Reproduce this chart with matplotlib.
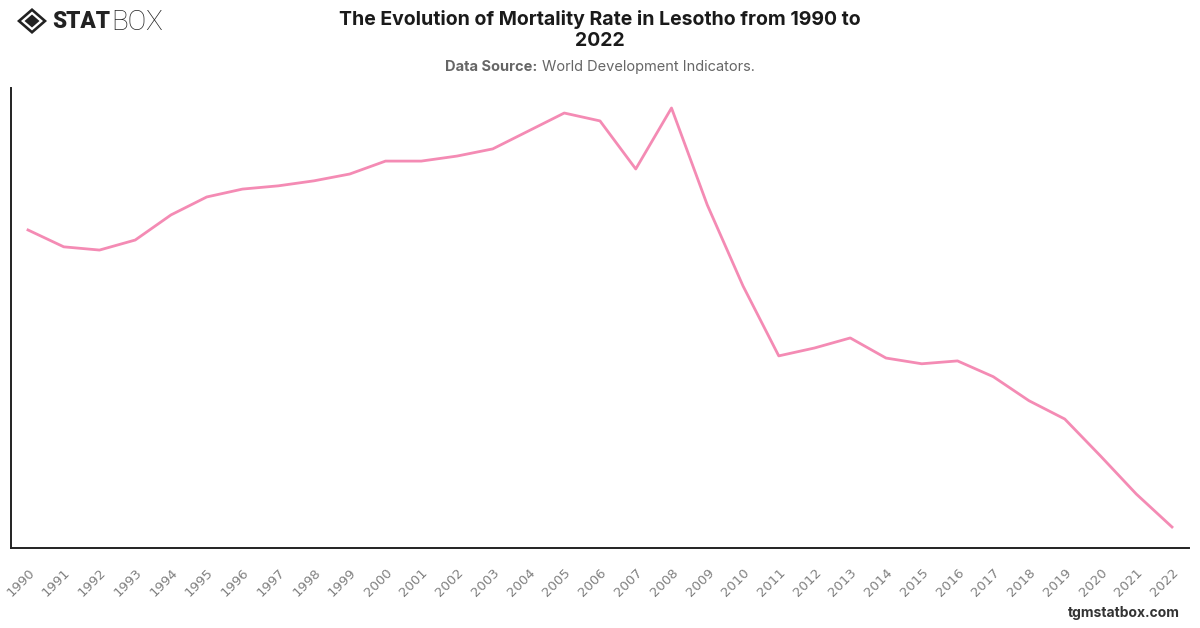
import matplotlib
matplotlib.use("Agg")
import matplotlib.pyplot as plt
from matplotlib.patches import Polygon

years = list(range(1990, 2023))
# Mortality rate (estimated from chart; no axis values shown)
values = [18.60, 18.13, 18.04, 18.32, 19.02, 19.52, 19.74, 19.83, 19.97, 20.16,
          20.52, 20.52, 20.66, 20.86, 21.36, 21.86, 21.64, 20.30, 22.00, 19.30,
          17.04, 15.09, 15.31, 15.59, 15.03, 14.87, 14.95, 14.51, 13.84, 13.33,
          12.30, 11.24, 10.32]

title = "The Evolution of Mortality Rate in Lesotho from 1990 to\n2022"
line_color = "#F48BB4"

fig = plt.figure(figsize=(12, 6.28), dpi=100)
ax = fig.add_axes([11/1200, 1-548/628, (1189-11)/1200, (548-88)/628])
ax.plot(years, values, color=line_color, lw=2)

vmin, vmax = min(values), max(values)
rng = vmax - vmin
ax.set_ylim(vmin - 21/419*rng, vmax + 20/419*rng)
ax.set_xlim(1990 - 17/35.75, 2022 + 17/35.75)
ax.set_xticks(years)
ax.set_xticklabels([str(y) for y in years], rotation=45, ha="right", va="top",
                   rotation_mode="anchor", color="#808080", fontsize=9.5, family="DejaVu Sans")
ax.tick_params(axis="x", length=0, pad=13)
ax.set_yticks([])
for s in ["top", "right"]:
    ax.spines[s].set_visible(False)
for s in ["left", "bottom"]:
    ax.spines[s].set_color("#222222")
    ax.spines[s].set_linewidth(1.4)

fig.text(0.5, 1-30/628, title, ha="center", va="center", fontsize=14, fontweight="bold",
         family="Inter", color="#1a1a1a", linespacing=1.25)

renderer = fig.canvas.get_renderer()
ys = 1-67/628
t_a = fig.text(0, ys, "Data Source:", ha="left", va="center", fontsize=10.5,
               fontweight="bold", family="Inter", color="#666666")
t_b = fig.text(0, ys, "World Development Indicators.", ha="left", va="center",
               fontsize=10.5, family="Inter", color="#666666")
wa = t_a.get_window_extent(renderer).width
wb = t_b.get_window_extent(renderer).width
gap = 4
x0 = (1200 - wa - wb - gap) / 2
t_a.set_x(x0/1200)
t_b.set_x((x0 + wa + gap)/1200)

# footer
fig.text(1180/1200, 1-613/628, "tgmstatbox.com", ha="right", va="center", fontsize=10,
         fontweight="bold", family="Inter", color="#333333")

# logo
lax = fig.add_axes([0, 1-45/628, 200/1200, 45/628])
lax.set_xlim(0, 200); lax.set_ylim(45, 0); lax.axis("off")
cx, cy = 32, 21
lax.add_patch(Polygon([(cx-15, cy), (cx, cy-13), (cx+15, cy), (cx, cy+13)], closed=True, fc="#222222", ec="none"))
lax.add_patch(Polygon([(cx-11, cy), (cx, cy-9.5), (cx+11, cy), (cx, cy+9.5)], closed=True, fc="white", ec="none"))
lax.add_patch(Polygon([(cx-7.5, cy), (cx, cy-6.5), (cx+7.5, cy), (cx, cy+6.5)], closed=True, fc="#222222", ec="none"))
t_s = fig.text(52/1200, 1-22/628, "STAT", fontsize=20, fontweight="heavy", family="Roboto",
               color="#222222", va="center", ha="left")
ws = t_s.get_window_extent(renderer).width
t_s.set_fontsize(20 * 58 / ws)
ws = t_s.get_window_extent(renderer).width
fig.text((52 + ws + 1)/1200, 1-22/628, "BOX", fontsize=20, fontweight="light", family="Roboto",
         color="#222222", va="center", ha="left")

fig.savefig("out.png", dpi=100, facecolor="white")
